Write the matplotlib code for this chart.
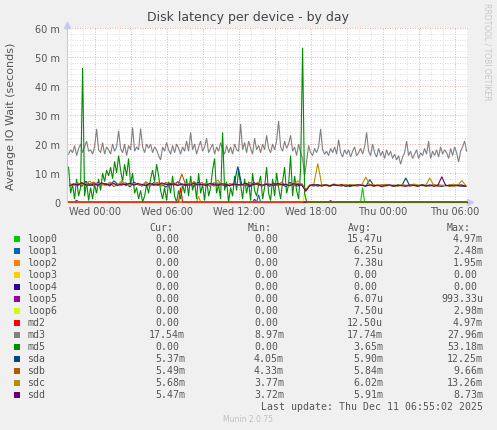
import numpy as np
import matplotlib
matplotlib.use("Agg")
import matplotlib.pyplot as plt
from matplotlib.patches import Rectangle

# ---- data (values in milliseconds) ----
# md3 / md5 sampled every 10 min, sdX every 20 min, hours relative to Wed 00:00
fine_t0, fine_step, fine_n = -2.2, 1.0 / 6, 200
sd_t0, sd_step, sd_n = -2.1, 1.0 / 3, 100

md3 = [16.5, 18, 17, 19.5, 16, 18.5, 20, 17, 19, 21, 17.5, 18, 16.5, 19, 25.2, 18, 17, 20.5, 16.5, 19,
       18, 16.5, 20, 17.5, 19, 24.5, 18.5, 17, 20, 16, 19.5, 18, 25.7, 17.5, 19, 18, 25.3, 19, 17, 20,
       18.5, 20, 17, 19, 18, 16, 14.5, 19, 17.5, 20.5, 18, 16.5, 19.5, 17, 20, 18.5, 16.5, 19, 17.5, 21,
       17.5, 24, 18, 20, 16.5, 19, 21, 17.5, 19, 22, 17, 18.5, 20, 16.5, 19, 17.5, 20.5, 18, 16.5, 19.5,
       17, 19, 16.5, 20, 18, 17.5, 26.9, 18, 20.5, 17, 21, 18.5, 16.5, 22, 18, 19.5, 17, 20, 18, 23,
       18.5, 17, 20, 18, 21, 27.96, 19, 17.5, 21, 18.5, 20, 23, 17.5, 19, 16, 20, 17, 15, 8.97, 14,
       19.5, 17, 16, 18.5, 17, 19, 25.2, 18, 16.5, 17.5, 16, 18.5, 17, 19, 16.5, 21.5, 17, 15.5, 18, 16.5,
       18, 15.5, 17.5, 19, 16, 17, 18.5, 16.5, 19, 24, 17.5, 16, 20, 17, 15.5, 18.5, 16, 17.5, 15, 18,
       16, 17.5, 15, 16.5, 14.5, 16, 13, 15.5, 17, 21, 16, 17.5, 15, 16.5, 18, 15, 17, 16, 18.5, 16.5,
       21, 15, 17.5, 16, 18, 15.5, 19, 16.5, 18, 17, 15, 18.5, 16, 19, 17, 13.8, 17.5, 19, 21, 17.54]
md5 = [12, 3, 6, 1, 8, 2, 5, 46.2, 2, 7, 0.5, 5, 1, 6, 3, 8, 4, 10, 7, 11,
       9, 12, 8, 14, 10, 16, 11, 7, 13, 9, 15, 6, 10, 3, 5, 1, 4, 0, 2, 6,
       3, 8, 11, 7, 13, 9, 4, 1, 5, 0.5, 7, 3, 9, 2, 0, 4, 1, 6, 3, 8,
       2, 9, 4, 7, 1, 10, 3, 6, 0.5, 8, 2, 5, 11, 15, 3, 6, 1, 24, 4, 7,
       0, 5, 2, 9, 4, 11, 6, 1, 8, 3, 7, 0.5, 10, 4, 2, 6, 9, 1, 5, 12,
       3, 0.5, 8, 2, 10, 5, 1, 7, 12, 3, 6, 16, 2, 9, 4, 1, 11, 53.18, 3, 0,
       0, 0, 0, 0, 0, 0, 0, 0, 0, 0, 0, 0, 0, 0, 0, 0, 0, 0, 0, 0,
       0, 0, 0, 0, 0, 0, 0, 0, 0, 0, 0, 0, 0, 0, 0, 0, 0, 0, 0, 0,
       0, 0, 0, 0, 0, 0, 0, 0, 0, 0, 0, 0, 0, 0, 0, 0, 0, 0, 0, 0,
       0, 0, 0, 0, 0, 0, 0, 0, 0, 0, 0, 0, 0, 0, 0, 0, 0, 0, 0, 0]
sda = [6.2, 5.8, 6.5, 5.4, 7.1, 6.0, 5.6, 6.8, 5.9, 6.4, 5.5, 7.3, 6.1, 5.8, 6.6, 5.2, 6.9, 6.0, 5.7, 6.3,
       5.4, 6.7, 5.9, 6.2, 5.1, 6.5, 5.8, 7.0, 6.1, 5.6, 6.4, 5.3, 6.8, 5.9, 6.2, 5.5, 6.6, 5.8, 6.0, 5.4,
       6.3, 5.7, 12.25, 5.9, 6.4, 5.2, 6.7, 6.0, 5.6, 6.2, 5.4, 6.5, 5.8, 6.1, 5.3, 6.8, 5.9, 5.5, 6.3, 4.05,
       5.8, 5.5, 6.0, 5.6, 5.9, 5.4, 6.1, 5.7, 5.5, 6.0, 5.3, 5.8, 5.6, 5.9, 5.4, 7.7, 5.6, 5.8, 5.5, 6.0,
       5.7, 5.4, 5.9, 5.6, 8.3, 5.5, 5.8, 5.4, 6.0, 5.7, 5.5, 5.9, 5.6, 5.3, 5.8, 5.5, 6.1, 5.6, 5.4, 5.37]
sdb = [5.9, 6.3, 5.6, 6.8, 5.7, 6.2, 6.9, 5.5, 6.4, 5.8, 6.6, 5.3, 6.0, 6.7, 5.6, 6.3, 5.9, 6.5, 5.4, 7.0,
       6.1, 5.7, 6.4, 5.5, 6.8, 5.9, 6.2, 5.6, 9.66, 5.8, 6.5, 5.4, 6.1, 6.7, 5.7, 6.3, 5.5, 6.6, 5.9, 6.2,
       5.6, 6.4, 5.8, 6.0, 5.5, 6.7, 5.9, 6.2, 5.4, 6.5, 5.8, 6.1, 5.6, 6.9, 5.7, 6.3, 5.5, 6.4, 5.9, 4.33,
       5.6, 5.9, 5.4, 6.0, 5.7, 5.5, 5.8, 5.6, 6.1, 5.4, 5.9, 5.7, 5.5, 6.0, 5.6, 5.8, 5.4, 5.7, 6.0, 5.5,
       5.8, 5.6, 5.4, 5.9, 5.7, 5.5, 6.0, 5.6, 5.8, 5.4, 5.7, 5.9, 5.5, 5.6, 5.8, 5.4, 5.7, 5.9, 5.6, 5.49]
sdc = [6.0, 5.7, 6.6, 5.9, 6.3, 7.2, 5.8, 6.5, 6.1, 5.6, 6.9, 6.2, 5.9, 7.4, 6.0, 5.7, 6.4, 6.1, 5.8, 6.6,
       5.5, 6.3, 6.8, 5.9, 6.2, 5.6, 6.7, 6.0, 5.8, 6.4, 5.7, 7.1, 6.1, 5.9, 6.5, 5.6, 6.2, 7.6, 5.8, 6.3,
       5.9, 6.6, 6.0, 5.7, 6.4, 6.1, 5.8, 6.8, 5.6, 6.2, 6.0, 5.7, 6.5, 6.1, 5.8, 6.3, 5.9, 7.3, 6.0, 3.77,
       5.9, 6.1, 13.26, 5.8, 6.0, 5.7, 6.2, 5.9, 5.6, 6.1, 5.8, 6.0, 5.7, 5.9, 8.6, 5.8, 6.0, 5.6, 5.9, 6.1,
       5.7, 5.9, 5.6, 6.0, 5.8, 5.7, 6.2, 5.9, 5.6, 5.8, 8.3, 5.7, 6.0, 5.8, 5.6, 5.9, 6.1, 5.7, 7.4, 5.68]
sdd = [5.6, 6.2, 5.9, 6.5, 6.0, 5.7, 6.3, 5.8, 6.6, 6.1, 5.9, 6.4, 5.7, 6.2, 6.0, 6.5, 5.8, 6.3, 6.1, 5.6,
       6.4, 6.0, 5.8, 6.6, 6.1, 5.9, 6.3, 5.7, 6.2, 6.0, 5.8, 6.5, 5.9, 6.1, 5.7, 6.4, 6.0, 5.8, 6.3, 6.1,
       5.6, 6.2, 6.0, 5.9, 6.5, 5.7, 6.1, 6.3, 5.8, 6.0, 6.2, 5.7, 6.4, 5.9, 6.1, 5.6, 6.3, 6.0, 5.8, 3.72,
       5.7, 6.0, 5.8, 5.5, 5.9, 5.6, 6.0, 5.7, 5.9, 5.4, 5.8, 5.6, 6.0, 5.7, 5.5, 5.9, 5.6, 5.8, 5.3, 5.7,
       5.9, 5.5, 5.8, 5.6, 5.4, 5.9, 5.7, 5.5, 5.8, 5.6, 5.9, 5.4, 5.7, 8.73, 5.6, 5.8, 5.5, 5.7, 5.9, 5.47]

# mostly-zero series: (hour, value) of their few non-zero samples
loop0_spikes = [(22.3, 4.97)]
loop1_spikes = [(13.7, 2.48)]
loop2_spikes = [(8.7, 1.95)]
loop3_spikes = []
loop4_spikes = []
loop5_spikes = [(-1.6, 0.6), (13.3, 0.99), (19.6, 0.5)]
loop6_spikes = [(17.5, 2.98)]
md2_spikes = [(7.1, 4.97)]

names = ["loop0", "loop1", "loop2", "loop3", "loop4", "loop5", "loop6",
         "md2", "md3", "md5", "sda", "sdb", "sdc", "sdd"]
colors = ["#00CC00", "#0066B3", "#FF8000", "#FFCC00", "#330099", "#990099", "#CCFF00",
          "#FF0000", "#808080", "#008F00", "#00487D", "#B35A00", "#B38F00", "#6B006B"]
cur = ["0.00", "0.00", "0.00", "0.00", "0.00", "0.00", "0.00", "0.00", "17.54m", "0.00",
       "5.37m", "5.49m", "5.68m", "5.47m"]
mins = ["0.00", "0.00", "0.00", "0.00", "0.00", "0.00", "0.00", "0.00", "8.97m", "0.00",
        "4.05m", "4.33m", "3.77m", "3.72m"]
avgs = ["15.47u", "6.25u", "7.38u", "0.00", "0.00", "6.07u", "7.50u", "12.50u", "17.74m", "3.65m",
        "5.90m", "5.84m", "6.02m", "5.91m"]
maxs = ["4.97m", "2.48m", "1.95m", "0.00", "0.00", "993.33u", "2.98m", "4.97m", "27.96m", "53.18m",
        "12.25m", "9.66m", "13.26m", "8.73m"]

xtick_hours = [0, 6, 12, 18, 24, 30]
xtick_labels = ["Wed 00:00", "Wed 06:00", "Wed 12:00", "Wed 18:00", "Thu 00:00", "Thu 06:00"]
ytick_vals = [0, 10, 20, 30, 40, 50, 60]
ytick_labels = ["0", "10 m", "20 m", "30 m", "40 m", "50 m", "60 m"]

# ---- build series ----
t_fine = fine_t0 + np.arange(fine_n) * fine_step
t_sd = sd_t0 + np.arange(sd_n) * sd_step

def from_spikes(spikes):
	s = np.zeros(fine_n)
	for h, v in spikes:
		s[int(round((h - fine_t0) / fine_step))] = v
	return s

series = [(t_fine, from_spikes(loop0_spikes)), (t_fine, from_spikes(loop1_spikes)),
          (t_fine, from_spikes(loop2_spikes)), (t_fine, from_spikes(loop3_spikes)),
          (t_fine, from_spikes(loop4_spikes)), (t_fine, from_spikes(loop5_spikes)),
          (t_fine, from_spikes(loop6_spikes)), (t_fine, from_spikes(md2_spikes)),
          (t_fine, md3), (t_fine, md5), (t_sd, sda), (t_sd, sdb), (t_sd, sdc), (t_sd, sdd)]

# ---- figure, laid out in pixels ----
W, H = 497, 431
fig = plt.figure(figsize=(W / 100, H / 100), dpi=100, facecolor="#F0F0F0")

def px(x, y):
	return x / W, 1 - y / H

left, right, top, bottom = 67, 468, 29, 203
ax = fig.add_axes([left / W, 1 - bottom / H, (right - left) / W, (bottom - top) / H])
ax.set_facecolor("white")

for (tt, s), c in zip(series, colors):
	ax.plot(tt, s, color=c, lw=0.8, solid_joinstyle="miter", zorder=3, clip_on=False)

ax.set_xlim((left - 95) / 12, (right - 95) / 12)
ax.set_ylim(0, 60)

ax.set_xticks(np.arange(0, 31, 3))
ax.set_xticklabels([xtick_labels[xtick_hours.index(h)] if h in xtick_hours else "" for h in range(0, 31, 3)])
ax.set_xticks(np.arange(-2, 32, 1), minor=True)
ax.set_yticks(ytick_vals)
ax.set_yticklabels(ytick_labels)
ax.set_yticks(np.arange(0, 61, 2), minor=True)
ax.tick_params(which="both", length=0, labelsize=7, labelcolor="#555555")
ax.tick_params(axis="y", pad=5)
ax.tick_params(axis="x", pad=3)
ax.grid(which="minor", color="#D4D4D4", linestyle=(0, (1, 2)), lw=0.6)
ax.grid(which="major", color="#F08C8C", linestyle=(0, (1, 2)), lw=0.6)
ax.set_axisbelow(True)
for sp in ax.spines.values():
	sp.set_visible(False)
ax.spines["left"].set_visible(True)
ax.spines["left"].set_color("#C8C8F0")
ax.spines["left"].set_zorder(2)
# axis arrows
ax.plot([0], [1.02], transform=ax.transAxes, marker="^", ms=5, color="#C8C8F0", clip_on=False)
ax.plot([1.005], [0], transform=ax.transAxes, marker=">", ms=5, color="#C8C8F0", clip_on=False)
ax.plot([0, 0], [1.0, 1.035], transform=ax.transAxes, color="#C8C8F0", lw=0.8, clip_on=False)
ax.plot([0.995, 1.005], [0, 0], transform=ax.transAxes, color="#C8C8F0", lw=0.8, clip_on=False)

fig.text(*px(248, 18), "Disk latency per device - by day", ha="center", va="center",
         fontsize=9, color="#444444")
fig.text(*px(11, 116), "Average IO Wait (seconds)", ha="center", va="center",
         rotation=90, fontsize=8, color="#555555")
fig.text(*px(487, 52), "RRDTOOL / TOBI OETIKER", ha="center", va="center",
         rotation=-90, fontsize=5.5, color="#C8C8C8")

# ---- legend table ----
mono = "DejaVu Sans Mono"
fs = 7.15
cw = 6.0
headers = ["Cur:", "Min:", "Avg:", "Max:"]
head_x = [149, 248, 348, 447]
col_right = [185, 284, 383, 483]
for hx, htxt in zip(head_x, headers):
	fig.text(*px(hx, 228), htxt, ha="left", va="center", family=mono, fontsize=fs, color="#555555")

for k, name in enumerate(names):
	y = 239.5 + 12 * k
	fig.patches.append(Rectangle(px(14, y + 3), 6 / W, 6 / H, transform=fig.transFigure,
	                             facecolor=colors[k], edgecolor="none"))
	fig.text(*px(27, y), name, ha="left", va="center", family=mono, fontsize=fs, color="#555555")
	for cx, col in zip(col_right, [cur, mins, avgs, maxs]):
		v = col[k]
		x = cx if v[-1].isalpha() else cx - cw
		fig.text(*px(x, y), v, ha="right", va="center", family=mono, fontsize=fs, color="#555555")

fig.text(*px(483, 407.5), "Last update: Thu Dec 11 06:55:02 2025", ha="right", va="center",
         family=mono, fontsize=fs, color="#555555")
fig.text(*px(248, 419.5), "Munin 2.0.75", ha="center", va="center", fontsize=5.5, color="#C0C0C0")

fig.savefig("out.png", dpi=100, facecolor=fig.get_facecolor())
